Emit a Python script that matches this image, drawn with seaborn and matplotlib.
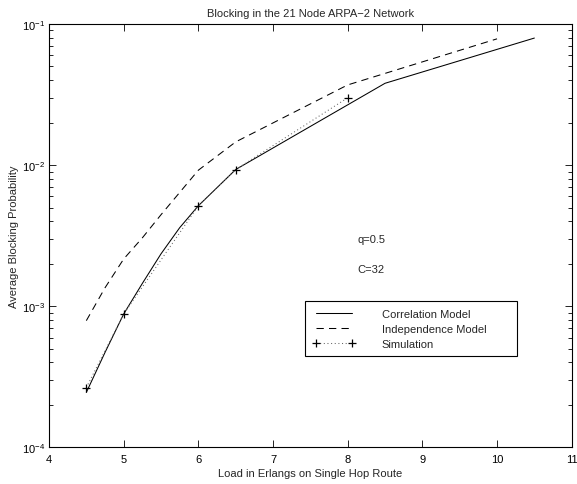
import matplotlib
matplotlib.use("Agg")
import matplotlib.pyplot as plt
import seaborn as sns
import pandas as pd
import numpy as np
from matplotlib.ticker import LogLocator, FixedLocator

# ---- data ----
load_corr = [4.5, 4.75, 5.0, 5.25, 5.5, 5.75, 6.0, 6.5, 8.5, 10.5]
corr_model = [2.45e-4, 4.7e-4, 8.8e-4, 1.45e-3, 2.35e-3, 3.6e-3, 5.15e-3, 9.3e-3, 3.8e-2, 7.95e-2]
load_ind = [4.5, 4.75, 5.0, 5.25, 5.5, 5.75, 6.0, 6.5, 8.0, 10.0]
ind_model = [7.9e-4, 1.35e-3, 2.16e-3, 3.05e-3, 4.45e-3, 6.4e-3, 9.2e-3, 1.46e-2, 3.7e-2, 7.85e-2]
load_sim = [4.5, 5.0, 6.0, 6.5, 8.0]
simulation = [2.65e-4, 8.8e-4, 5.15e-3, 9.3e-3, 3.0e-2]
x_ticks = [4, 5, 6, 7, 8, 9, 10, 11]
series_names = ["Correlation Model", "Independence Model", "Simulation"]
title = "Blocking in the 21 Node ARPA\u22122 Network"
xlabel = "Load in Erlangs on Single Hop Route"
ylabel = "Average Blocking Probability"
notes = ["q=0.5", "C=32"]

sns.set_theme(style="white")
plt.rcParams["font.family"] = ["Liberation Sans", "DejaVu Sans"]
plt.rcParams["mathtext.fontset"] = "custom"
plt.rcParams["mathtext.rm"] = "Liberation Sans"
plt.rcParams["mathtext.it"] = "Liberation Sans:italic"
plt.rcParams["mathtext.bf"] = "Liberation Sans:bold"

fs = 8
fig = plt.figure(figsize=(5.77, 4.85), dpi=100)
ax = fig.add_axes([49/577, 1-448.3/485, (571.7-49)/577, (448.3-25)/485])

df_c = pd.DataFrame({"load": load_corr, "p": corr_model})
df_i = pd.DataFrame({"load": load_ind, "p": ind_model})
df_s = pd.DataFrame({"load": load_sim, "p": simulation})

lw = 0.75
sns.lineplot(data=df_c, x="load", y="p", ax=ax, color="black", lw=lw,
             estimator=None, sort=False, label=series_names[0])
sns.lineplot(data=df_i, x="load", y="p", ax=ax, color="black", lw=lw,
             estimator=None, sort=False, label=series_names[1])
ax.lines[-1].set_linestyle((0, (7, 5)))
sns.lineplot(data=df_s, x="load", y="p", ax=ax, color="black", lw=lw,
             estimator=None, sort=False, label=series_names[2],
             marker="+", markersize=6, markeredgewidth=0.9,
             markeredgecolor="black", markerfacecolor="black")
sim_line = ax.lines[-1]
sim_line.set_linestyle((0, (1, 2.5)))
sim_line.set_color("0.4")
sim_line.set_markeredgecolor("black")

ax.set_yscale("log")
ax.set_xlim(4, 11)
ax.set_ylim(1e-4, 1e-1)
ax.xaxis.set_major_locator(FixedLocator(x_ticks))
ax.yaxis.set_major_locator(LogLocator(base=10, numticks=10))
ax.yaxis.set_minor_locator(LogLocator(base=10, subs=np.arange(2, 10), numticks=20))

ax.tick_params(which="both", direction="in", top=True, right=True,
               bottom=True, left=True, labelsize=fs, colors="black")
ax.tick_params(which="major", length=5, width=0.6)
ax.tick_params(which="minor", length=3, width=0.6)
ax.tick_params(axis="x", pad=5)
ax.tick_params(axis="y", pad=3)
for s in ax.spines.values():
    s.set_visible(True)
    s.set_color("black")
    s.set_linewidth(0.8)

ax.set_title(title, fontsize=fs, pad=6)
ax.set_xlabel(xlabel, fontsize=fs, labelpad=3)
ax.set_ylabel(ylabel, fontsize=fs, labelpad=2)

ax.text((358-49)/522.7, 1-(240-25)/423.3, notes[0], transform=ax.transAxes,
        fontsize=fs, va="center", ha="left")
ax.text((357-49)/522.7, 1-(270-25)/423.3, notes[1], transform=ax.transAxes,
        fontsize=fs, va="center", ha="left")

leg = ax.legend(loc="upper left", bbox_to_anchor=(0.49, 0.209, 0.405, 0.137),
                mode="expand", fontsize=fs, frameon=True, fancybox=False,
                edgecolor="black", framealpha=1, handlelength=3.8,
                handletextpad=2.4, labelspacing=0.45, borderpad=0.7,
                numpoints=2, borderaxespad=0)
leg.get_frame().set_linewidth(0.8)

fig.savefig("out.png", dpi=100)
